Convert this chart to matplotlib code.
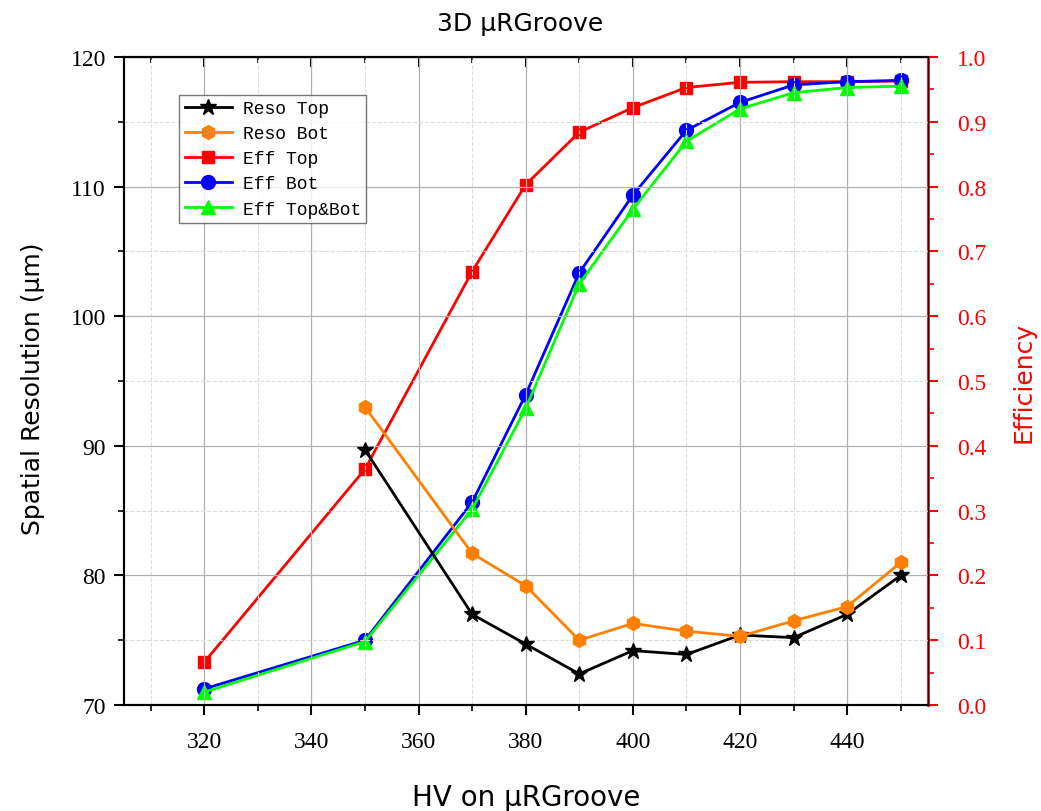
import numpy as np
import matplotlib ; matplotlib.use('Agg')
from matplotlib import pyplot as plt
from matplotlib.ticker import MultipleLocator, FormatStrFormatter

# HV values
hv_reso = [350, 370, 380, 390, 400, 410, 420, 430, 440, 450]
hv_eff = [320, 350, 370, 380, 390, 400, 410, 420, 430, 440, 450]

reso_top = [89.7, 77.0, 74.7, 72.4, 74.2, 73.9, 75.4, 75.2, 77.0, 80.0]
reso_bot = [93.0, 81.7, 79.2, 75.0, 76.3, 75.7, 75.3, 76.5, 77.6, 81.0]

eff_top = [0.066, 0.364, 0.669, 0.803, 0.884, 0.922, 0.953, 0.961, 0.962, 0.962, 0.963]
eff_bot = [0.025, 0.100, 0.313, 0.479, 0.667, 0.787, 0.887, 0.930, 0.957, 0.962, 0.964]
eff_tb = [0.020, 0.098, 0.302, 0.458, 0.650, 0.765, 0.870, 0.920, 0.945, 0.953, 0.955]

serif = 'Liberation Serif'
mono = 'Liberation Mono'
sans = 'DejaVu Sans'

plt.rcParams['font.family'] = serif

fig = plt.figure(figsize=(10.41, 8.12), dpi=100)
ax = fig.add_axes([0.119, 0.1305, 0.772, 0.798])
ax2 = ax.twinx()

ax.set_xlim(305, 455)
ax.set_ylim(70, 120)
ax2.set_ylim(0, 1.0)

ax.xaxis.set_major_locator(MultipleLocator(20))
ax.xaxis.set_minor_locator(MultipleLocator(10))
ax.yaxis.set_major_locator(MultipleLocator(10))
ax.yaxis.set_minor_locator(MultipleLocator(5))
ax2.yaxis.set_major_locator(MultipleLocator(0.1))
ax2.yaxis.set_minor_locator(MultipleLocator(0.05))
ax2.yaxis.set_major_formatter(FormatStrFormatter('%.1f'))

ax.grid(which='major', color='#b0b0b0', lw=0.9)
ax.grid(which='minor', color='#dcdcdc', lw=0.8, ls='--')
ax.set_axisbelow(True)

l1, = ax.plot(hv_reso, reso_top, color='black', marker='*', ms=12, lw=2, label='Reso Top')
l2, = ax.plot(hv_reso, reso_bot, color='#ff8000', marker='h', ms=10, lw=2, label='Reso Bot')
l3, = ax2.plot(hv_eff, eff_top, color='#ff0000', marker='s', ms=9, lw=2, label='Eff Top')
l4, = ax2.plot(hv_eff, eff_bot, color='#0000ff', marker='o', ms=10, lw=2, label='Eff Bot')
l5, = ax2.plot(hv_eff, eff_tb, color='#00ff00', marker='^', ms=10, lw=2, label='Eff Top&Bot')

for s in ['left', 'bottom', 'top']:
    ax.spines[s].set_linewidth(1.5)
    ax2.spines[s].set_linewidth(1.5)
ax2.spines['right'].set_color('red')
ax2.spines['right'].set_linewidth(2)

ax.tick_params(axis='x', which='major', direction='out', length=7, width=1.5, labelsize=17, pad=12)
ax.tick_params(axis='x', which='minor', direction='out', length=4, width=1.2)
ax.tick_params(axis='y', which='major', direction='out', length=7, width=1.5, labelsize=17, pad=6)
ax.tick_params(axis='y', which='minor', direction='out', length=4, width=1.2)
ax2.tick_params(axis='y', which='major', direction='out', length=7, width=1.5, colors='red', labelsize=17, pad=14)
ax2.tick_params(axis='y', which='minor', direction='out', length=4, width=1.2, colors='red')

# top axis with inward ticks
axt = ax.secondary_xaxis('top')
axt.xaxis.set_major_locator(MultipleLocator(20))
axt.xaxis.set_minor_locator(MultipleLocator(10))
axt.tick_params(which='major', direction='in', length=7, width=1.5, labeltop=False)
axt.tick_params(which='minor', direction='in', length=4, width=1.2)

ax.set_xlabel('HV on µRGroove', fontsize=20, family=sans)
ax.set_ylabel('Spatial Resolution (µm)', fontsize=18, family=sans)
ax2.set_ylabel('Efficiency', fontsize=18, family=sans, color='red')
ax.xaxis.set_label_coords(0.5, -0.12)
ax.yaxis.set_label_coords(-0.098, 0.49)
ax2.yaxis.set_label_coords(1.104, 0.5)
fig.suptitle('3D µRGroove', fontsize=18, family=sans, y=0.985)

leg = ax.legend(handles=[l1, l2, l3, l4, l5], loc='upper left', bbox_to_anchor=(0.069, 0.942),
                prop={'family': mono, 'size': 13}, fancybox=False, edgecolor='#555555',
                handlelength=2.6, borderpad=0.3, labelspacing=0.45, handletextpad=0.6,
                borderaxespad=0)
leg.get_frame().set_linewidth(1.0)
leg.set_zorder(10)
ax.set_zorder(ax2.get_zorder() + 1)
ax.patch.set_visible(False)

plt.savefig('out.png', dpi=100)
